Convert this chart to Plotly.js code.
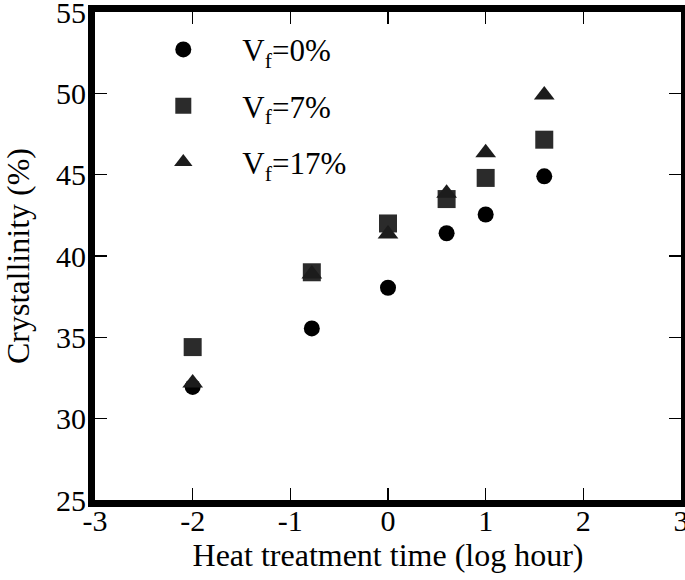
<!DOCTYPE html>
<html>
<head>
<meta charset="utf-8">
<script src="https://cdn.plot.ly/plotly-3.0.1.min.js"></script>
<style>html,body{margin:0;padding:0;background:#fff;font-family:'Liberation Serif';}#chart{width:685px;height:580px;}</style>
</head>
<body>
<div id="chart"></div>
<script>
// log heat treatment time (log hour)
const logTime = [-2, -0.78, 0, 0.6, 1, 1.6];
// crystallinity (%)
const vf0 = [31.95, 35.55, 38.05, 41.4, 42.55, 44.9];
const vf7 = [34.4, 39.0, 42.0, 43.5, 44.8, 47.15];
const vf17 = [32.2, 38.9, 41.35, 43.85, 46.35, 49.9];
const seriesNames = ['V<sub>f</sub>=0%', 'V<sub>f</sub>=7%', 'V<sub>f</sub>=17%'];
const xTicks = [-3, -2, -1, 0, 1, 2, 3];
const yTicks = [25, 30, 35, 40, 45, 50, 55];

const FONT = 'Liberation Serif';

const traces = [
  {x: logTime, y: vf0, name: seriesNames[0], legendgroup: 'a', mode: 'markers', type: 'scatter',
   marker: {symbol: 'circle', size: 16, color: '#000000'}},
  {x: logTime, y: vf7, name: seriesNames[1], legendgroup: 'b', mode: 'markers', type: 'scatter',
   marker: {symbol: 'square', size: 18, color: '#2b2b2b'}},
  {x: logTime, y: vf17, name: seriesNames[2], legendgroup: 'c', mode: 'markers', type: 'scatter',
   marker: {symbol: 'triangle-up', size: 18, color: '#1c1c1c'}}
];

const axisCommon = {
  showline: true, linewidth: 7, linecolor: '#000', mirror: 'ticks',
  ticks: 'inside', ticklen: 12, tickwidth: 1.2, tickcolor: '#000',
  showgrid: false, zeroline: false, ticklabeloverflow: 'allow',
  tickfont: {family: FONT, size: 30, color: '#000'}
};

const layout = {
  width: 685, height: 580,
  margin: {l: 95, r: 4, t: 12, b: 80},
  paper_bgcolor: '#fff', plot_bgcolor: '#fff',
  font: {family: FONT, color: '#000'},
  showlegend: true,
  legend: {
    x: 0.05, y: 0.978, xanchor: 'left', yanchor: 'top',
    bgcolor: 'rgba(0,0,0,0)', borderwidth: 0,
    font: {family: FONT, size: 31, color: '#000'},
    itemwidth: 108, traceorder: 'grouped', tracegroupgap: 13
  },
  xaxis: Object.assign({}, axisCommon, {
    range: [-3, 3], tickvals: xTicks, ticktext: xTicks.map(String),
    ticklabelstandoff: -12,
    title: {text: 'Heat treatment time (log hour)', font: {family: FONT, size: 32, color: '#000'}, standoff: 2}
  }),
  yaxis: Object.assign({}, axisCommon, {
    range: [25, 55], tickvals: yTicks, ticktext: yTicks.map(String),
    ticklabelstandoff: -4,
    title: {text: 'Crystallinity (%)', font: {family: FONT, size: 32, color: '#000'}, standoff: 29}
  })
};

Plotly.newPlot('chart', traces, layout, {displayModeBar: false, staticPlot: true});
</script>
</body>
</html>
